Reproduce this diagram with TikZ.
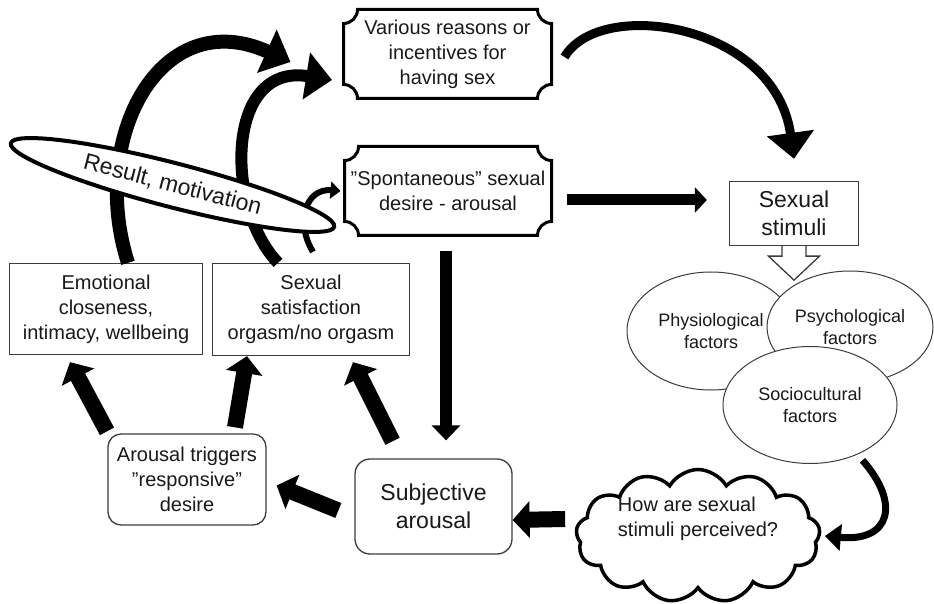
\documentclass[tikz,border=0pt]{standalone}
\usepackage{fontspec}
\setmainfont{Liberation Sans}
\usetikzlibrary{arrows.meta,positioning,calc,shapes.geometric,shapes.symbols}
\definecolor{boxline}{RGB}{60,60,60}
\definecolor{inktext}{RGB}{25,25,25}
\tikzset{rbox/.style={draw=boxline, line width=1.3pt, align=center, inner sep=2pt, text=inktext, font=\fontsize{20}{25}\selectfont}, rrbox/.style={rbox, rounded corners=13pt}, pbox/.style={align=center, inner sep=0pt, outer sep=0pt, text=inktext, font=\fontsize{20}{25}\selectfont}, fbox/.style={ellipse, draw=boxline, line width=1pt, fill=white, align=center, inner sep=0pt, text=inktext, font=\fontsize{18}{22}\selectfont}, blk/.style={line width=16pt, -{Triangle[length=17pt,width=36pt]}}, carrow/.style={-{Triangle[length=26pt,width=46pt]}}}
% frame with inward cut corners around a node
\newcommand{\plaqueframe}[1]{\draw[line width=3pt] ([xshift=14pt]#1.north west) -- ([xshift=-14pt]#1.north east) arc[start angle=180,end angle=270,radius=14pt] -- ([yshift=14pt]#1.south east) arc[start angle=90,end angle=180,radius=14pt] -- ([xshift=14pt]#1.south west) arc[start angle=0,end angle=90,radius=14pt] -- ([yshift=-14pt]#1.north west) arc[start angle=270,end angle=360,radius=14pt] -- cycle;}

\begin{document}
\begin{tikzpicture}[x=1pt,y=1pt]
\useasboundingbox (0,0) rectangle (934,603);
% top plaques
\node[pbox,minimum width=208pt,minimum height=89pt] (reasons) at (447.5,549) {Various reasons or\\incentives for\\having sex};
\plaqueframe{reasons}
\node[pbox,minimum width=207pt,minimum height=89pt] (spont) at (448,412) {”Spontaneous” sexual\\desire - arousal};
\plaqueframe{spont}
% stimuli and factors
\node[rbox,minimum width=129pt,minimum height=64pt,font=\fontsize{23}{28}\selectfont] (stim) at (794,389.5) {Sexual\\stimuli};
\node[fbox,minimum width=168pt,minimum height=118pt] (phys) at (711,272) {Physiological\\factors};
\node[fbox,minimum width=166pt,minimum height=112pt] (psych) at (850,276) {Psychological\\factors};
\node[fbox,minimum width=174pt,minimum height=117pt] (socio) at (810,198) {Sociocultural\\factors};
\draw[line width=1.3pt,draw=boxline,fill=white] ([xshift=-12pt]stim.south) -- ++(0,-10) -- ++(-13.5,0) -- ([yshift=-34pt]stim.south) -- ([xshift=25.5pt,yshift=-10pt]stim.south) -- ++(-13.5,0) -- ([xshift=12pt]stim.south);
\node[cloud,cloud ignores aspect,draw=black,line width=3.5pt,cloud puffs=13,cloud puff arc=120,minimum width=244pt,minimum height=133pt,fill=white] (cloud) at (698,67) {};
\node[align=left,text=inktext,font=\fontsize{20}{25}\selectfont] (cloudtext) at ([yshift=17pt]cloud.center) {How are sexual\\stimuli perceived?};
% lower boxes
\node[rrbox,minimum width=157pt,minimum height=95pt,rounded corners=15pt,font=\fontsize{23}{28}\selectfont] (subj) at (433.5,96.5) {Subjective\\arousal};
\node[rrbox,minimum width=158pt,minimum height=91pt] (trig) at (187,123.5) {Arousal triggers\\”responsive”\\desire};
\node[rbox,minimum width=193pt,minimum height=91pt] (emo) at (106,294) {Emotional\\closeness,\\intimacy, wellbeing};
\node[rbox,minimum width=197pt,minimum height=92pt] (satis) at (311,293.5) {Sexual\\satisfaction\\orgasm/no orgasm};
% feedback arcs behind the ellipse
\draw[line width=14pt,carrow] ([xshift=22pt]emo.north) .. controls +(-40,125) and +(-130,59) .. ([shift={(-53pt,-8pt)}]reasons.west);
\draw[line width=12pt,carrow] ([xshift=-33pt]satis.north) .. controls +(-53,55) and +(-107,17) .. ([shift={(-11.5pt,-26pt)}]reasons.west);
\draw[line width=6pt,-{Triangle[length=10pt,width=17pt]}] ([shift={(2pt,11pt)}]satis.north) .. controls +(-18,29) and +(-35,3) .. ([xshift=-4pt]spont.west);
\node[ellipse,draw=black,line width=4pt,fill=white,rotate=-14.5,minimum width=334pt,minimum height=44pt,inner sep=0pt,text=inktext,font=\fontsize{23}{28}\selectfont] (result) at (172.5,418) {Result, motivation};
% right side
\draw[line width=9pt,carrow] ([shift={(13pt,-3pt)}]reasons.east) .. controls +(35,60) and +(-19,136) .. ([yshift=22pt]stim.north);
\draw[line width=11pt,-{Triangle[length=12pt,width=25pt]}] ([xshift=15pt,yshift=-9pt]spont.east) -- ([xshift=-22pt,yshift=13.5pt]stim.west);
\draw[line width=7pt,-{Triangle[length=16pt,width=26pt]}] ([yshift=-8pt]socio.-42) .. controls +(38,-43) and +(66,-6) .. ([xshift=4pt]cloud.east);
% block arrows
\draw[blk] ([xshift=-10pt,yshift=17pt]cloud.west) -- ([yshift=-13.5pt]subj.east);
\draw[line width=12pt,-{Triangle[length=15pt,width=28pt]}] ([xshift=-2pt,yshift=-16pt]spont.south) -- ([xshift=12.5pt,yshift=18pt]subj.north);
\draw[blk] ([xshift=-16pt,yshift=-4pt]subj.west) -- ([xshift=10pt,yshift=-6pt]trig.east);
\draw[blk] ([xshift=-80pt,yshift=2pt]trig.north) -- ([xshift=-36pt,yshift=-7pt]emo.south);
\draw[blk] ([xshift=48pt,yshift=6pt]trig.north) -- ([xshift=-64pt]satis.south);
\draw[blk] ([xshift=-41pt,yshift=17pt]subj.north) -- ([xshift=42pt,yshift=-6pt]satis.south);
\end{tikzpicture}
\end{document}
